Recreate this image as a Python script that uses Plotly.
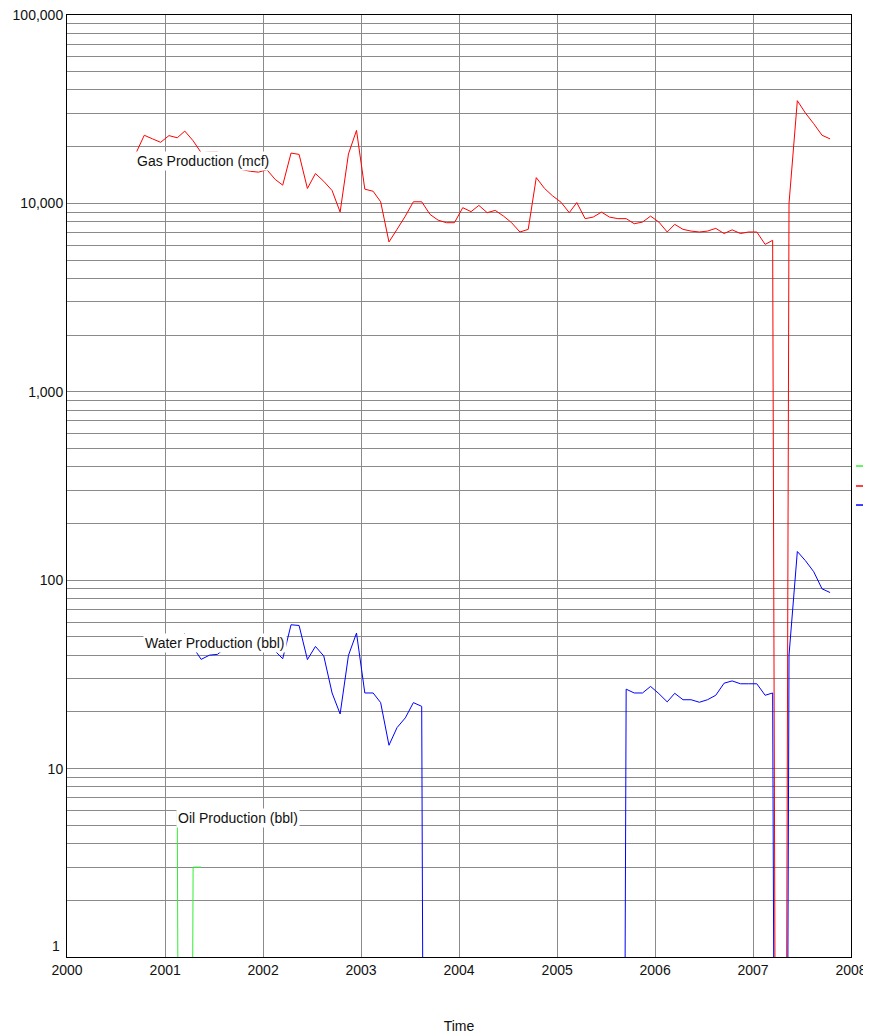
import math
import pandas as pd
import plotly.graph_objects as go

# Monthly production, Sep 2000 .. Oct 2007 (0 = no production that month)
months = pd.date_range("2000-09-01", "2007-10-01", freq="MS") + pd.Timedelta(days=14)

gas_mcf = [18600, 23000, 22000, 21100, 22900, 22300, 24200, 21500, 18600, 18700,
           18700, 17100, 15900, 15100, 14800, 14650, 15100, 13400, 12500, 18500,
           18200, 12000, 14400, 13100, 11700, 9000, 18300, 24400, 11900, 11600,
           10200, 6240, 7280, 8560, 10200, 10200, 8740, 8150, 7900, 7900,
           9490, 9040, 9760, 8930, 9180, 8560, 7900, 7050, 7280, 13700,
           12000, 10960, 10150, 8930, 10100, 8300, 8460, 8990, 8460, 8300,
           8300, 7800, 7960, 8560, 7960, 7050, 7740, 7280, 7130, 7050,
           7130, 7370, 6920, 7240, 6920, 7050, 7050, 6060, 6370, 0,
           10000, 35100, 30200, 26500, 23000, 22000]

water_bbl = [None, 51, 46, 46, 47, 49, 52, 44, 38, 40,
             40.4, 44, 45, 45, 44, 44, 45, 42, 38.3, 58,
             57.5, 37.9, 44.5, 39.6, 25.2, 19.5, 39.9, 52.4, 25.2, 25.2,
             22.4, 13.3, 16.5, 18.6, 22.4, 21.4, 0, 0, 0, 0,
             0, 0, 0, 0, 0, 0, 0, 0, 0, 0,
             0, 0, 0, 0, 0, 0, 0, 0, 0, 0,
             26.4, 25.2, 25.2, 27.3, 25.0, 22.6, 25.1, 23.2, 23.2, 22.5,
             23.2, 24.5, 28.4, 29.2, 28.2, 28.2, 28.2, 24.5, 25.2, 0,
             40, 142, 127, 111, 90, 86]

oil_bbl = [None, None, None, None, None, 6.0, 0, 3.0, 3.0] + [None] * 77

series_names = ["Gas Production (mcf)", "Water Production (bbl)", "Oil Production (bbl)"]
series_colors = ["#ff0000", "#0000ff", "#33ee33"]
year_ticks = list(range(2000, 2009))
decade_labels = ["1", "10", "100", "1,000", "10,000", "100,000"]

FLOOR = 1e-10  # zero months drawn at a floor far below the log axis
FONT = "Liberation Sans, Arial"


def for_log(vals):
    return [None if v is None else (v if v > 0 else FLOOR) for v in vals]


fig = go.Figure()
all_series = [gas_mcf, water_bbl, oil_bbl]
for name, vals, col in zip(series_names, all_series, series_colors):
    fig.add_trace(go.Scatter(
        x=months, y=for_log(vals), mode="lines", name=name,
        line=dict(color=col, width=1, simplify=False),
        connectgaps=False, showlegend=False, hoverinfo="skip"))

# series labels at each series' first point
for name, vals in zip(series_names, all_series):
    i0 = next(i for i, v in enumerate(vals) if v is not None and v > 0)
    fig.add_annotation(
        x=months[i0], y=math.log10(vals[i0]), text=name, showarrow=False,
        xanchor="left", yanchor="top", bgcolor="white", borderpad=1,
        xshift=-1, yshift=2,
        font=dict(family=FONT, size=14, color="#111111"))

# y tick values: every 1..9 x 10^k, labels only at decades ("1" placed separately)
tickvals, ticktext = [], []
for k in range(0, 5):
    for d in range(1, 10):
        tickvals.append(d * 10 ** k)
        ticktext.append(decade_labels[k] if (d == 1 and k > 0) else "")
tickvals.append(10 ** 5)
ticktext.append(decade_labels[5])

fig.add_annotation(
    x=0, y=0, xref="paper", yref="paper", text=decade_labels[0],
    showarrow=False, xanchor="right", yanchor="middle", xshift=-5, yshift=11,
    font=dict(family=FONT, size=14, color="#111111"))

# small colour marks right of the plot (oil, gas, water from top)
mark_colors = [series_colors[2], series_colors[0], series_colors[1]]
for col, yp in zip(mark_colors, [0.5212, 0.5, 0.4798]):
    fig.add_shape(type="line", xref="paper", yref="paper",
                  x0=1.0064, x1=1.0179, y0=yp, y1=yp,
                  line=dict(color=col, width=1.5))

fig.update_layout(
    width=860, height=1026,
    margin=dict(l=59, r=17, t=7, b=77),
    paper_bgcolor="white", plot_bgcolor="white",
    font=dict(family=FONT, size=14, color="#111111"),
    xaxis=dict(
        range=["2000-01-01", "2008-01-01"],
        tickvals=[f"{y}-01-01" for y in year_ticks],
        ticktext=[str(y) for y in year_ticks],
        showgrid=True, gridcolor="#8a8a8a", gridwidth=1,
        showline=True, linecolor="black", linewidth=1, mirror=True,
        ticks="", zeroline=False, automargin=False, ticklabeloverflow="allow",
        title=dict(text="Time", font=dict(size=14), standoff=44),
    ),
    yaxis=dict(
        type="log", range=[0, 5],
        tickvals=tickvals, ticktext=ticktext,
        showgrid=True, gridcolor="#8a8a8a", gridwidth=1,
        showline=True, linecolor="black", linewidth=1, mirror=True,
        ticks="", zeroline=False, automargin=False, ticklabeloverflow="allow",
    ),
)

fig.write_html("out.html")
